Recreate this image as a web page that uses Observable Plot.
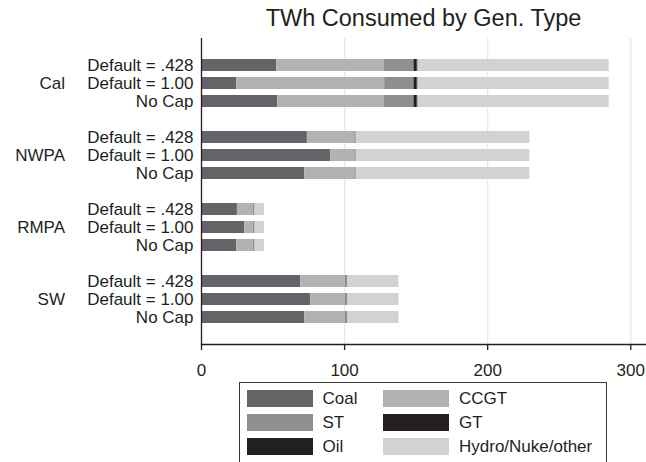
<!DOCTYPE html>
<html>
<head>
<meta charset="utf-8">
<script src="https://cdn.jsdelivr.net/npm/d3@7"></script>
<script src="https://cdn.jsdelivr.net/npm/@observablehq/plot@0.6"></script>
<style>
  html, body { margin: 0; padding: 0; background: #fff; }
  body { width: 646px; height: 462px; overflow: hidden; position: relative;
         font-family: "Liberation Sans", Arial, sans-serif; color: #231f20; }
  #title { position: absolute; top: 0; left: 201px; width: 445px; height: 37px;
           line-height: 37px; text-align: center; font-size: 23.5px; white-space: nowrap; }
  #chart { position: absolute; top: 36px; left: 0; }
  #legend { position: absolute; top: 382px; left: 239px; width: 368px; height: 84px;
            border: 1.3px solid #3a3a3a; box-sizing: border-box;
            display: grid; grid-template-columns: 136.5px auto; row-gap: 7px;
            padding: 7px 0 0 6.5px; align-content: start; }
  .item { display: flex; align-items: center; font-size: 17px; height: 17px; white-space: nowrap; }
  .sw { display: inline-block; width: 66px; height: 17px; margin-right: 10px; }
</style>
</head>
<body>
<div id="title">TWh Consumed by Gen. Type</div>
<div id="chart"></div>
<div id="legend"></div>
<script>
const regions = ["Cal", "NWPA", "RMPA", "SW"];
const scenarios = ["Default = .428", "Default = 1.00", "No Cap"];
const types = ["Coal", "CCGT", "ST", "GT", "Oil", "Hydro/Nuke/other"];
const colors = ["#636467", "#b1b2b4", "#8e8f91", "#231f20", "#231f20", "#d1d2d4"];
const xTicks = [0, 100, 200, 300];

// values in region-major order: Cal(.428, 1.00, No Cap), NWPA(...), RMPA(...), SW(...)
const coal  = [52.6, 24.7, 53.3, 74.0, 90.3, 72.2, 25.1, 30.2, 24.7, 69.3, 76.3, 72.2];
const ccgt  = [74.9, 103.3, 74.2, 33.1, 16.8, 34.9, 11.2, 6.1, 11.6, 31.3, 24.3, 28.4];
const st    = [21.0, 20.5, 21.0, 0.8, 0.8, 0.8, 0.8, 0.8, 0.8, 1.2, 1.2, 1.2];
const gt    = [2.0, 2.0, 2.0, 0.2, 0.2, 0.2, 0.2, 0.2, 0.2, 0.2, 0.2, 0.2];
const oil   = [0.8, 0.8, 0.8, 0, 0, 0, 0, 0, 0, 0, 0, 0];
const hydro = [133.6, 133.6, 133.6, 121.4, 121.4, 121.4, 6.7, 6.7, 6.7, 36.0, 36.0, 36.0];

const series = [coal, ccgt, st, gt, oil, hydro];
const keyOf = (r, s) => r + "|" + s;

const rows = [];
regions.forEach((r, ri) => {
  scenarios.forEach((s, si) => {
    const idx = ri * scenarios.length + si;
    types.forEach((t, ti) => {
      rows.push({key: keyOf(r, s), region: r, scenario: s, type: t, value: series[ti][idx]});
    });
  });
});

// band domain: three rows per region with a spacer between regions
const yDomain = [];
regions.forEach((r, ri) => {
  if (ri > 0) yDomain.push("gap" + ri);
  scenarios.forEach(s => yDomain.push(keyOf(r, s)));
});
const middleKeys = regions.map(r => keyOf(r, scenarios[1]));

const chart = Plot.plot({
  width: 646,
  height: 346,
  marginTop: 2,
  marginBottom: 38,
  marginLeft: 201,
  marginRight: 0,
  style: {fontFamily: "'Liberation Sans', Arial, sans-serif", fontSize: "17px", color: "#231f20", background: "transparent"},
  x: {domain: [0, 311]},
  y: {domain: yDomain, paddingInner: 0.33, paddingOuter: 1.07},
  color: {domain: types, range: colors},
  marks: [
    Plot.gridX({ticks: [100, 200, 300], stroke: "#e8e8e8", strokeOpacity: 1, strokeWidth: 1.3}),
    Plot.barX(rows, Plot.stackX({x: "value", y: "key", fill: "type", order: types, inset: 0})),
    Plot.ruleX([0], {stroke: "#231f20", strokeWidth: 1.3}),
    Plot.frame({anchor: "bottom", stroke: "#231f20", strokeWidth: 1.3}),
    Plot.axisX({ticks: xTicks, tickSize: 6, tickPadding: 13, stroke: "#231f20", strokeWidth: 1.3, fill: "#231f20", label: null}),
    Plot.axisY({ticks: yDomain.filter(k => !k.startsWith("gap")), tickSize: 0, tickPadding: 8,
                tickFormat: k => k.split("|")[1], fill: "#231f20", label: null}),
    Plot.axisY({ticks: middleKeys, tickSize: 0, tickPadding: 136.5,
                tickFormat: k => k.split("|")[0], fill: "#231f20", label: null})
  ]
});
document.getElementById("chart").appendChild(chart);

const legend = d3.select("#legend");
types.forEach((t, i) => {
  const item = legend.append("div").attr("class", "item");
  item.append("span").attr("class", "sw").style("background", colors[i]);
  item.append("span").text(t);
});
</script>
</body>
</html>
